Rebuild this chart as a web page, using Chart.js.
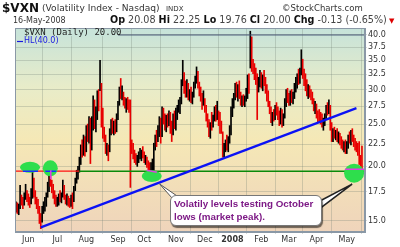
<!DOCTYPE html>
<html>
<head>
<meta charset="utf-8">
<script src="https://cdn.jsdelivr.net/npm/chart.js@4.4.1/dist/chart.umd.min.js"></script>
<style>
  body { margin: 0; width: 400px; height: 247px; overflow: hidden; background: #fff; position: relative; font-family: "DejaVu Sans", sans-serif; }
  #vxnChart { position: absolute; left: 0; top: 0; }
  .t { position: absolute; white-space: nowrap; color: #111; }
  .callout { position: absolute; left: 170px; top: 195px; width: 150px; height: 29px; background: #fff; border: 1px solid #777; border-radius: 6px; box-shadow: 1px 2px 1px rgba(0,0,0,0.55); }
  .callout div { position: absolute; left: 3px; font: bold 9.8px "Liberation Sans", sans-serif; color: #7d1a86; white-space: nowrap; }
</style>
</head>
<body>
<canvas id="vxnChart" width="400" height="247"></canvas>

<div class="t" style="left:2px;top:1px;font:bold 12px 'DejaVu Sans'">$VXN</div>
<div class="t" style="left:42px;top:3px;font:9.1px 'DejaVu Sans';color:#333">(Volatility Index - Nasdaq)</div>
<div class="t" style="left:166px;top:5px;font:7px 'DejaVu Sans';color:#333">INDX</div>
<div class="t" style="left:282px;top:3px;font:8.5px 'DejaVu Sans';color:#333">©StockCharts.com</div>
<div class="t" style="left:13px;top:16px;font:8px 'DejaVu Sans';color:#333">16-May-2008</div>
<div class="t" style="left:110px;top:14px;font:9.6px 'DejaVu Sans';color:#444"><b style="color:#111">Op</b> 20.08 <b style="color:#111">Hi</b> 22.25 <b style="color:#111">Lo</b> 19.76 <b style="color:#111">Cl</b> 20.00 <b style="color:#111">Chg</b> -0.13 (-0.65%)<span style="color:#d00;font-size:7px"> ▼</span></div>

<div class="t" style="left:16px;top:29px;width:102px;height:7px;background:#c9e4d9"></div>
<div class="t" style="left:24px;top:27px;font:9px 'DejaVu Sans Mono';color:#222">$VXN (Daily) 20.00</div>
<div class="t" style="left:24px;top:36px;font:8px 'DejaVu Sans';color:#1818e0">HL(40.0)</div>

<div class="callout">
  <div style="top:2px">Volatily levels testing October</div>
  <div style="top:15px">lows (market peak).</div>
</div>

<script>
// trading day index 0 = 18-May-2007, last = 16-May-2008
const monthIdx = [9, 30, 51, 74, 93, 116, 137, 157, 178, 198, 218, 240];
const monthLabels = ['Jun', 'Jul', 'Aug', 'Sep', 'Oct', 'Nov', 'Dec', '2008', 'Feb', 'Mar', 'Apr', 'May'];
const yTickVals = [15, 17.5, 20, 22.5, 25, 27.5, 30, 32.5, 35, 37.5, 40];

const highs = [
  16.6,16.5,16.4,18.1,17.2,17.0,17.4,18.2,17.6,
  17.3,17.0,17.8,19.8,18.8,17.6,17.0,16.8,16.2,15.6,16.2,16.6,17.0,17.4,18.4,19.8,19.6,18.6,18.2,17.6,17.2,
  17.0,17.3,17.6,17.4,18.6,18.1,17.2,17.3,17.1,16.9,17.2,17.4,18.0,18.8,19.6,20.0,21.0,22.4,23.0,23.6,23.4,
  24.8,25.0,26.0,25.8,26.0,29.0,28.4,27.4,29.8,30.0,35.0,31.0,27.2,24.6,23.6,22.6,22.4,24.4,25.6,25.8,25.4,25.6,26.4,
  28.2,30.4,31.8,30.6,29.6,28.8,28.6,28.8,28.4,28.4,23.0,22.6,21.8,21.4,21.2,21.6,22.0,21.8,22.2,
  21.6,21.2,21.0,20.6,20.4,20.4,20.8,22.6,23.6,24.2,24.8,26.0,25.8,27.4,27.2,26.4,26.2,26.4,26.8,26.6,25.4,26.4,26.8,
  27.2,27.6,28.4,28.8,31.6,35.0,32.8,31.4,31.6,31.0,30.0,30.4,29.6,31.2,32.2,33.8,33.0,31.2,30.4,29.4,29.8,
  28.6,27.6,26.4,25.6,25.2,26.6,26.2,27.4,27.6,28.2,26.8,26.6,25.4,24.0,22.6,23.0,23.6,23.4,24.8,27.4,
  28.6,29.4,31.0,31.2,30.8,31.4,29.6,29.0,29.2,29.0,30.2,32.4,32.6,40.8,39.6,35.2,34.4,33.6,32.6,32.0,33.2,
  32.8,32.4,33.2,32.0,30.8,29.8,28.2,27.4,26.6,27.0,27.6,28.0,27.4,26.8,27.2,27.0,26.4,28.6,30.0,30.2,
  29.4,29.8,30.0,29.6,31.0,32.0,32.6,33.4,33.6,37.0,35.2,33.4,32.6,31.6,30.8,30.6,30.0,29.6,28.6,28.2,
  27.8,26.8,27.0,26.6,26.4,25.8,26.4,27.6,28.0,28.4,27.6,25.2,24.4,24.6,24.2,24.4,24.0,23.8,23.4,23.0,22.8,23.0,
  22.8,23.6,24.0,24.2,24.4,23.6,23.2,22.8,22.6,22.8,21.2,22.25
];
const lows = [
  15.7,15.6,15.5,16.0,16.3,16.0,16.3,16.8,16.6,
  16.3,16.1,16.4,16.9,17.0,16.4,16.0,15.6,14.8,14.4,14.9,15.6,15.8,16.2,17.0,17.5,18.0,17.4,16.9,16.4,16.2,
  16.2,16.3,16.6,16.5,17.0,16.8,16.4,16.3,16.2,16.1,16.2,16.0,16.6,17.6,18.3,18.7,19.4,20.2,21.0,21.2,21.1,
  21.6,22.8,22.6,20.3,21.8,24.2,24.4,24.0,25.6,26.8,29.8,24.6,23.2,22.8,21.4,21.2,20.6,21.6,23.6,23.8,23.6,23.8,24.0,
  25.6,27.6,28.6,28.4,27.6,27.2,26.6,27.0,26.6,17.9,21.4,20.8,20.4,20.2,20.0,20.4,20.8,20.6,20.9,
  20.4,20.2,19.9,19.4,19.3,19.4,19.5,19.6,21.8,22.2,22.8,23.4,22.6,23.4,25.0,24.2,24.0,24.6,24.8,23.8,22.8,23.6,24.4,
  24.2,25.6,26.6,26.4,27.8,30.6,29.4,28.8,28.8,28.4,28.2,28.0,27.8,28.8,30.2,31.0,30.2,29.0,28.2,27.0,27.6,
  26.6,25.4,24.6,23.4,23.2,24.2,24.6,25.4,25.4,25.6,24.8,23.8,23.8,21.0,21.0,21.6,21.8,21.6,22.6,23.6,
  26.0,27.2,28.4,28.8,28.2,28.6,27.6,27.4,27.6,27.4,28.2,28.6,29.4,33.6,33.0,32.6,31.6,30.8,25.6,29.6,30.4,
  30.2,29.8,30.6,29.4,28.2,27.4,26.4,25.2,24.8,25.4,25.6,26.2,25.6,24.8,25.0,24.6,24.8,25.8,27.4,28.0,
  27.6,27.6,28.0,27.8,28.6,29.6,30.2,30.8,31.0,32.4,31.8,30.6,29.8,29.0,28.6,28.8,28.4,27.8,26.8,26.4,
  25.8,25.2,25.4,25.0,24.6,24.2,24.8,25.6,26.2,26.4,24.2,22.8,22.8,23.2,23.0,22.8,22.6,22.4,22.0,21.8,21.6,21.4,
  21.4,22.0,22.6,22.4,22.8,22.2,21.8,21.6,21.2,20.2,19.9,19.76
];
const closes = [
  16.2,15.9,16.3,17.0,16.6,16.4,17.1,17.4,16.9,
  16.6,16.4,17.5,18.9,17.3,16.7,16.3,16.0,15.2,15.0,15.9,16.2,16.6,17.2,17.8,19.3,18.4,17.8,17.1,16.8,16.5,
  16.6,17.0,16.9,17.2,18.0,17.0,16.7,16.9,16.5,16.4,16.9,16.7,17.8,18.6,19.2,19.6,20.7,22.0,21.5,23.2,21.6,
  24.2,23.4,25.5,21.0,25.4,27.5,25.0,26.8,29.0,28.2,33.0,25.4,24.0,23.3,21.8,22.2,21.2,24.0,25.0,24.4,25.0,24.2,26.0,
  27.8,30.0,29.2,30.2,28.0,27.6,28.2,27.4,27.0,22.6,21.8,21.2,20.8,20.6,20.9,21.2,21.4,21.6,21.2,
  20.6,21.0,20.2,19.8,19.6,19.9,20.6,22.2,23.2,23.0,24.4,25.6,23.2,26.6,25.4,24.8,25.8,25.0,26.2,24.6,23.4,26.0,25.0,
  26.8,27.2,28.0,28.4,31.2,32.4,30.0,29.4,31.2,28.8,29.6,28.4,28.6,30.8,31.6,33.2,30.8,29.6,28.6,27.8,29.4,
  27.0,25.8,25.2,23.8,24.8,24.6,25.8,26.8,26.0,26.4,25.2,24.4,24.0,21.6,22.4,22.8,22.6,23.2,24.4,27.0,
  27.6,28.8,30.6,29.2,30.2,29.0,28.2,28.6,28.0,28.8,29.6,32.0,31.8,38.2,34.0,33.0,32.4,31.6,30.6,31.4,32.6,
  30.6,32.0,31.6,29.8,28.8,27.8,26.8,25.6,26.2,25.8,27.2,26.6,26.0,25.2,26.8,25.0,26.0,28.2,29.4,28.6,
  28.0,29.2,28.4,29.0,30.6,31.4,32.2,31.4,33.2,34.6,32.2,31.2,30.2,29.6,30.2,29.2,28.8,28.2,27.2,27.8,
  26.2,26.0,25.8,25.4,25.0,25.4,26.0,27.2,26.6,27.8,24.6,23.4,24.0,23.6,23.8,23.2,23.6,22.8,22.4,22.2,22.6,21.8,
  22.4,23.2,23.0,24.0,23.2,22.6,22.4,22.0,21.4,20.6,20.13,20.00
];

// annotations drawn on the original chart
const trendX = [18, 247];
const trendY = [14.5, 27.2];
const supportLevel = 19.5;
const supportStart = 46;
const hlLevel = 40;
const circleX = [10.2, 24.9, 98.5, 245.3];
const circleY = [19.9, 19.8, 19.0, 19.3];

const xMin = -0.7, xMax = 253.2;
const gridColor = 'rgba(110,125,115,0.28)';
const frameColor = '#8a98a6';

const barColors = closes.map((c, i) => (i > 0 && c < closes[i - 1]) ? '#e80000' : '#000000');

const backdrop = {
    id: 'backdrop',
    beforeDraw(chart) {
        const { ctx, chartArea: a } = chart;
        ctx.save();
        ctx.fillStyle = '#fff';
        ctx.fillRect(0, 0, chart.width, chart.height);
        const g = ctx.createLinearGradient(0, a.top, 0, a.bottom);
        g.addColorStop(0, '#c6e3da');
        g.addColorStop(0.3, '#e9ecc8');
        g.addColorStop(0.55, '#f5e8b6');
        g.addColorStop(1, '#efd4bb');
        ctx.fillStyle = g;
        ctx.fillRect(a.left, a.top, a.right - a.left, a.bottom - a.top);
        ctx.restore();
    }
};

const markup = {
    id: 'markup',
    afterDatasetsDraw(chart) {
        const { ctx, scales: { x, y } } = chart;
        const radii = [[10, 5.5], [7.5, 8], [10, 5.8], [10, 9.5]];
        ctx.save();
        ctx.fillStyle = '#2ede4c';
        circleX.forEach((cx, i) => {
            ctx.beginPath();
            ctx.ellipse(x.getPixelForValue(cx), y.getPixelForValue(circleY[i]), radii[i][0], radii[i][1], 0, 0, Math.PI * 2);
            ctx.fill();
        });
        // small marks inside the circles
        const sy = y.getPixelForValue(supportLevel);
        ctx.strokeStyle = '#1a2cff';
        ctx.lineWidth = 1.5;
        ctx.beginPath();
        ctx.moveTo(x.getPixelForValue(circleX[0]) - 7, sy);
        ctx.lineTo(x.getPixelForValue(circleX[0]) + 8, sy);
        ctx.moveTo(x.getPixelForValue(circleX[1]) - 5, sy);
        ctx.lineTo(x.getPixelForValue(circleX[1]) + 6, sy);
        ctx.stroke();
        ctx.strokeStyle = '#e040e0';
        ctx.beginPath();
        ctx.moveTo(x.getPixelForValue(circleX[1]) + 0.5, sy - 1);
        ctx.lineTo(x.getPixelForValue(circleX[1]) + 0.5, sy + 8);
        ctx.moveTo(x.getPixelForValue(circleX[2]) - 5, sy - 1);
        ctx.lineTo(x.getPixelForValue(circleX[2]) + 5, sy + 1);
        ctx.moveTo(x.getPixelForValue(circleX[3]) - 9, sy - 2);
        ctx.lineTo(x.getPixelForValue(circleX[3]) + 10, sy - 2);
        ctx.stroke();

        // callout tails
        const tail = (tx, ty, b1x, b1y, b2x, b2y) => {
            ctx.beginPath();
            ctx.moveTo(b1x, b1y);
            ctx.lineTo(tx, ty);
            ctx.lineTo(b2x, b2y);
            ctx.closePath();
            ctx.fillStyle = '#fff';
            ctx.fill();
            ctx.stroke();
        };
        ctx.strokeStyle = '#555';
        ctx.lineWidth = 1;
        tail(x.getPixelForValue(circleX[2]) + 8, y.getPixelForValue(circleY[2]) + 8, 172, 198, 180, 198);
        ctx.lineWidth = 1.6;
        ctx.strokeStyle = '#222';
        tail(x.getPixelForValue(circleX[3]) - 2, y.getPixelForValue(circleY[3]) + 11, 318, 202, 318, 210);

        // ohlc legend icon
        ctx.strokeStyle = '#111';
        ctx.lineWidth = 1;
        ctx.beginPath();
        [17.5, 19.5, 21.5].forEach((px, k) => {
            ctx.moveTo(px, 30 + k % 2);
            ctx.lineTo(px, 35 - (k % 2));
        });
        ctx.stroke();
        ctx.strokeStyle = '#1818e0';
        ctx.lineWidth = 1.2;
        ctx.beginPath();
        ctx.moveTo(17, 41.5);
        ctx.lineTo(23, 41.5);
        ctx.stroke();
        ctx.restore();
    },
    afterDraw(chart) {
        const { ctx, chartArea: a } = chart;
        ctx.save();
        ctx.strokeStyle = frameColor;
        ctx.lineWidth = 1;
        ctx.strokeRect(a.left + 0.5, a.top + 0.5, a.right - a.left - 1, a.bottom - a.top - 1);
        ctx.restore();
    }
};

const flatLine = (pts, color, width) => ({
    type: 'line',
    data: pts,
    borderColor: color,
    borderWidth: width,
    pointRadius: 0,
    tension: 0,
    fill: false,
    order: 1
});

const vxnChart = new Chart(document.getElementById('vxnChart').getContext('2d'), {
    type: 'bar',
    data: {
        datasets: [
            flatLine(trendX.map((v, i) => ({ x: v, y: trendY[i] })), '#0b12f5', 2.2),
            flatLine([{ x: supportStart, y: supportLevel }, { x: xMax, y: supportLevel }], '#0a8a0a', 1.5),
            flatLine([{ x: xMin, y: supportLevel }, { x: supportStart, y: supportLevel }], '#ff1010', 1.3),
            flatLine([{ x: xMin, y: hlLevel }, { x: xMax, y: hlLevel }], '#4a5878', 1),
            {
                type: 'bar',
                data: highs.map((h, i) => ({ x: i, y: [lows[i], h] })),
                backgroundColor: barColors,
                borderWidth: 0,
                barThickness: 1,
                order: 5
            }
        ]
    },
    options: {
        responsive: false,
        animation: false,
        events: [],
        layout: { padding: { left: 15, top: 28, right: 0, bottom: 0 } },
        plugins: { legend: { display: false }, tooltip: { enabled: false } },
        scales: {
            x: {
                type: 'linear',
                min: xMin,
                max: xMax,
                offset: false,
                afterBuildTicks: s => { s.ticks = monthIdx.map(v => ({ value: v })); },
                afterFit: s => { s.height = 15; },
                grid: { color: gridColor, tickLength: 2 },
                border: { color: frameColor },
                ticks: {
                    autoSkip: false,
                    maxRotation: 0,
                    padding: 1,
                    color: '#333',
                    font: c => ({ family: 'DejaVu Sans', size: 8, weight: monthLabels[c.index] === '2008' ? 'bold' : 'normal' }),
                    callback: (v, i) => monthLabels[i]
                }
            },
            y: {
                type: 'logarithmic',
                position: 'right',
                min: 14.15,
                max: 41.5,
                afterBuildTicks: s => { s.ticks = yTickVals.map(v => ({ value: v })); },
                afterFit: s => { s.width = 35; },
                grid: { color: gridColor, tickLength: 2 },
                border: { color: frameColor },
                ticks: {
                    padding: 1,
                    color: '#333',
                    font: { family: 'DejaVu Sans', size: 8 },
                    callback: v => Number(v).toFixed(1)
                }
            }
        }
    },
    plugins: [backdrop, markup]
});
</script>
</body>
</html>
